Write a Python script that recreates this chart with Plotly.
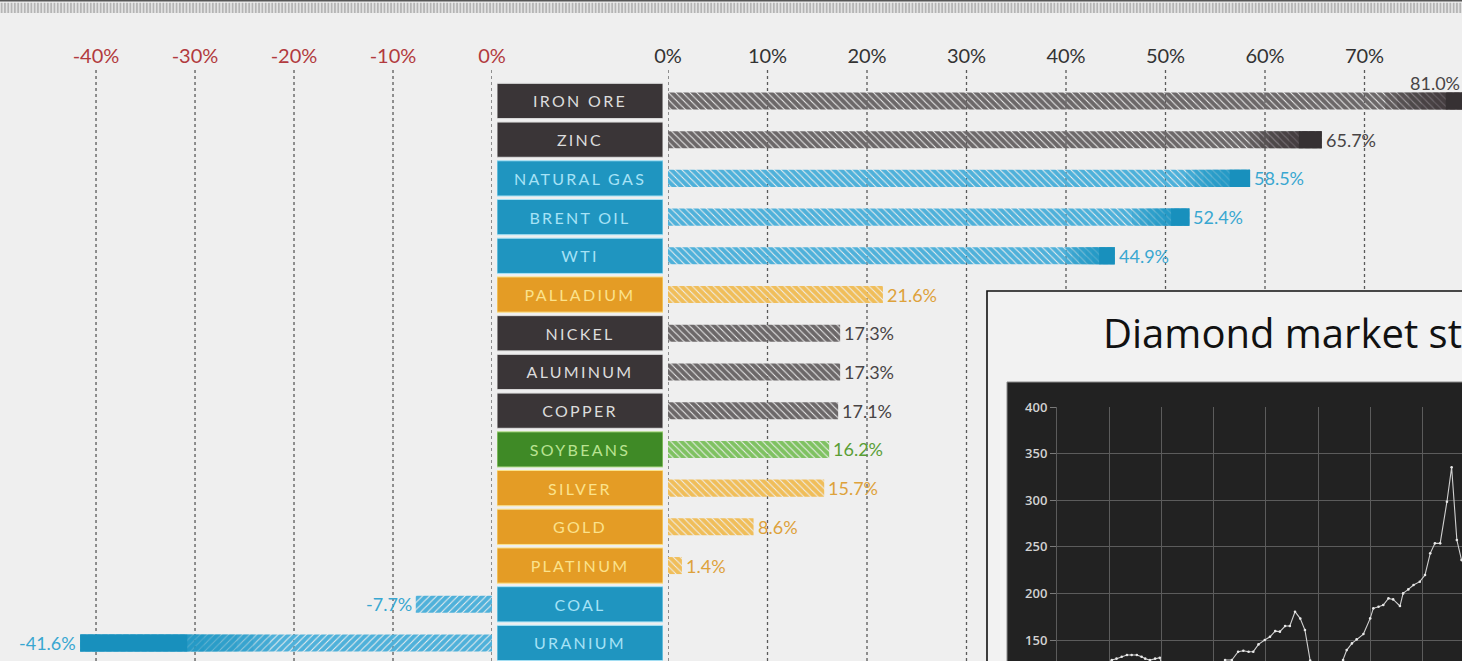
import plotly.graph_objects as go

W, H = 1462, 661

# ---------------- data ----------------
categories = ["IRON ORE", "ZINC", "NATURAL GAS", "BRENT OIL", "WTI", "PALLADIUM",
              "NICKEL", "ALUMINUM", "COPPER", "SOYBEANS", "SILVER", "GOLD",
              "PLATINUM", "COAL", "URANIUM"]
changes = [81.0, 65.7, 58.5, 52.4, 44.9, 21.6, 17.3, 17.3, 17.1, 16.2, 15.7, 8.6,
           1.4, -7.7, -41.6]
sectors = ["metal", "metal", "energy", "energy", "energy", "precious", "metal",
           "metal", "metal", "agri", "precious", "precious", "precious", "energy",
           "energy"]

neg_ticks = [-40, -30, -20, -10, 0]
neg_tick_labels = ["-40%", "-30%", "-20%", "-10%", "0%"]
pos_ticks = [0, 10, 20, 30, 40, 50, 60, 70]
pos_tick_labels = ["0%", "10%", "20%", "30%", "40%", "50%", "60%", "70%"]

inset_title = "Diamond market statistics"
inset_x = [0.1, 0.4, 0.7, 0.95, 1.05, 1.14, 1.24, 1.34, 1.43, 1.53, 1.62, 1.69, 1.78,
           1.88, 1.97, 2.05, 2.3, 2.6, 2.9, 3.12, 3.22, 3.35, 3.47, 3.57, 3.67, 3.76,
           3.86, 3.98, 4.08, 4.18, 4.27, 4.37, 4.46, 4.56, 4.66, 4.75, 4.85, 5.0, 5.2,
           5.35, 5.48, 5.55, 5.65, 5.74, 5.87, 6.0, 6.06, 6.16, 6.25, 6.35, 6.44, 6.57,
           6.63, 6.73, 6.83, 6.95, 7.05, 7.15, 7.24, 7.34, 7.47, 7.56, 7.66, 7.75, 7.85]
inset_y = [105, 112, 118, 124, 128.5, 130, 132, 134, 134, 134, 132, 130, 128.5, 130,
           131, 115, 100, 95, 100, 118, 128.5, 128.5, 137.5, 138.5, 137.5, 137.5, 145.3,
           150, 153.5, 159.6, 159, 165, 165, 180.4, 173, 160.7, 128, 108, 98, 110, 128.5,
           139.2, 146.4, 150.7, 156.4, 173.2, 184, 185.7, 187.5, 194.7, 193.6, 186.5,
           200, 204.3, 209, 212.6, 219.8, 243, 253.7, 253.7, 298.4, 335.3, 257.3, 235.8,
           225]
inset_yticks = [150, 200, 250, 300, 350, 400]

# ---------------- styles ----------------
palette = {
    "metal":    dict(box="#3a3537", text="#dcdcdc", fg="#363133", bg="#6c6869", label="#484445"),
    "energy":   dict(box="#1f95c0", text="#a6e2f6", fg="#1890bd", bg="#4fb1da", label="#39a7d1"),
    "precious": dict(box="#e49c25", text="#fbe28c", fg="#e19a1e", bg="#f0be5a", label="#dea23b"),
    "agri":     dict(box="#3f8a26", text="#b9e391", fg="#43932a", bg="#7fc262", label="#5a9e36"),
}
FONT = "Lato"


def px(x):
    return x / W


def py(y):
    return 1 - y / H


x_left_range = [-49.7, 0]
x_right_range = [0, (W - 668) / 9.95]

fig = go.Figure()

pos_idx = [i for i, v in enumerate(changes) if v > 0]
neg_idx = [i for i, v in enumerate(changes) if v < 0]


def hatched(idx, axis, shape):
    return go.Bar(
        x=[changes[i] for i in idx], y=[categories[i] for i in idx], orientation="h",
        xaxis=axis, yaxis="y", width=0.44,
        marker=dict(color=[palette[sectors[i]]["bg"] for i in idx], line=dict(width=0),
                    pattern=dict(shape=shape,
                                 fgcolor=[palette[sectors[i]]["fg"] for i in idx],
                                 bgcolor=[palette[sectors[i]]["bg"] for i in idx],
                                 size=5, solidity=0.8, fillmode="replace")),
        hoverinfo="skip")


fig.add_trace(hatched(neg_idx, "x", "/"))
fig.add_trace(hatched(pos_idx, "x2", "\\"))

# graded solid end caps on the long bars (fade from hatch to solid)
big = [i for i, v in enumerate(changes) if abs(v) >= 40]
steps_pos = [0.11, 0.095, 0.08, 0.065, 0.05, 0.035]
steps_neg = [0.46, 0.42, 0.38, 0.34, 0.30, 0.26]
for k in range(len(steps_pos)):
    op = 1.0 if k == len(steps_pos) - 1 else 0.22
    for axis, sel, frac in [("x2", [i for i in big if changes[i] > 0], steps_pos[k]),
                            ("x", [i for i in big if changes[i] < 0], steps_neg[k])]:
        if not sel:
            continue
        caps = [abs(changes[i]) * frac for i in sel]
        bases = [changes[i] - c if changes[i] > 0 else changes[i] for i, c in zip(sel, caps)]
        fig.add_trace(go.Bar(
            x=caps, base=bases, y=[categories[i] for i in sel], orientation="h",
            xaxis=axis, yaxis="y", width=0.44, opacity=op,
            marker=dict(color=[palette[sectors[i]]["fg"] for i in sel], line=dict(width=0)),
            hoverinfo="skip"))

# category label boxes
fig.add_trace(go.Bar(
    x=[1] * len(categories), y=categories, orientation="h", xaxis="x3", yaxis="y",
    width=0.91,
    marker=dict(color=[palette[s]["box"] for s in sectors],
                line=dict(color=[palette[s]["text"] for s in sectors], width=1)),
    text=['<span style="letter-spacing:2.3px">%s</span>' % c for c in categories],
    textposition="inside", insidetextanchor="middle", constraintext="none",
    textangle=0,
    textfont=dict(family=FONT, size=16, color=[palette[s]["text"] for s in sectors]),
    hoverinfo="skip"))

# value labels as annotations
annotations = []
for i, v in enumerate(changes):
    col = palette[sectors[i]]["label"]
    txt = "%.1f%%" % v
    if v > x_right_range[1]:
        annotations.append(dict(x=x_right_range[1], y=categories[i], xref="x2", yref="y",
                                text=txt, xanchor="right", yanchor="middle", yshift=18,
                                showarrow=False, font=dict(family=FONT, size=18, color=col)))
    elif v > 0:
        annotations.append(dict(x=v, y=categories[i], xref="x2", yref="y", text=txt,
                                xanchor="left", yanchor="middle", xshift=2,
                                showarrow=False, font=dict(family=FONT, size=18, color=col)))
    else:
        annotations.append(dict(x=v, y=categories[i], xref="x", yref="y", text=txt,
                                xanchor="right", yanchor="middle", xshift=-2,
                                showarrow=False, font=dict(family=FONT, size=18, color=col)))

annotations.append(dict(text=inset_title, xref="paper", yref="paper", x=px(1101), y=py(332),
                        xanchor="left", yanchor="middle", showarrow=False,
                        font=dict(family="Open Sans", size=40, color="#111111")))

# decorative striped strip at the top
fig.add_trace(go.Bar(
    x=[1], y=[0], orientation="h", xaxis="x5", yaxis="y5", width=1,
    marker=dict(color="#e2e2e2", line=dict(width=0),
                pattern=dict(shape="|", fgcolor="#b0b0b0", bgcolor="#e2e2e2", size=3.3,
                             solidity=0.45, fillmode="replace")),
    hoverinfo="skip"))

# inset line chart
fig.add_trace(go.Scatter(
    x=inset_x, y=inset_y, xaxis="x4", yaxis="y4", mode="lines+markers",
    line=dict(color="#d0d0d0", width=1.1), marker=dict(color="#e8e8e8", size=2.6),
    hoverinfo="skip"))

# ---------------- shapes ----------------
shapes = []
for t in neg_ticks:
    shapes.append(dict(type="line", xref="x", yref="paper", x0=t, x1=t, y0=0, y1=py(70),
                       line=dict(color="#5a5a5a", width=1.3, dash="dot"), layer="below"))
for t in pos_ticks:
    shapes.append(dict(type="line", xref="x2", yref="paper", x0=t, x1=t, y0=0, y1=py(70),
                       line=dict(color="#5a5a5a", width=1.3, dash="dot"), layer="below"))
shapes.append(dict(type="rect", xref="paper", yref="paper", x0=px(987), x1=1.02,
                   y0=-0.02, y1=py(291), fillcolor="#f2f2f2",
                   line=dict(color="#111111", width=1.6), layer="below"))
shapes.append(dict(type="rect", xref="paper", yref="paper", x0=px(1007), x1=1.02,
                   y0=-0.02, y1=py(382), fillcolor="#222222",
                   line=dict(color="#8a8a8a", width=1), layer="below"))
shapes.append(dict(type="line", xref="paper", yref="paper", x0=0, x1=1, y0=py(0.8), y1=py(0.8),
                   line=dict(color="#555555", width=1.6), layer="above"))

common_axis = dict(showgrid=False, zeroline=False, showline=False, automargin=False)

fig.update_layout(
    width=W, height=H, margin=dict(l=0, r=0, t=0, b=0, pad=0, autoexpand=False),
    paper_bgcolor="#efefef", plot_bgcolor="rgba(0,0,0,0)",
    showlegend=False, barmode="overlay", shapes=shapes, annotations=annotations,
    xaxis=dict(domain=[0, px(492)], range=x_left_range, anchor="y", side="top",
               tickmode="array", tickvals=neg_ticks, ticktext=neg_tick_labels,
               tickfont=dict(family=FONT, size=20, color="#b23a3e"),
               ticks="outside", ticklen=10, tickcolor="rgba(0,0,0,0)", **common_axis),
    xaxis2=dict(domain=[px(668), 1], range=x_right_range, anchor="y", side="top",
                tickmode="array", tickvals=pos_ticks, ticktext=pos_tick_labels,
                tickfont=dict(family=FONT, size=20, color="#333333"),
                ticks="outside", ticklen=10, tickcolor="rgba(0,0,0,0)", **common_axis),
    xaxis3=dict(domain=[px(497), px(663)], range=[0, 1], anchor="y", visible=False),
    yaxis=dict(domain=[0, py(81.6)], type="category", categoryorder="array",
               categoryarray=categories, range=[14.465, -0.5], visible=False),
    xaxis4=dict(domain=[px(1057), 1], range=[0, (W - 1057) / 52.2], anchor="y4",
                tick0=0, dtick=1, showgrid=True, gridcolor="#5c5c5c", gridwidth=1,
                showticklabels=False, zeroline=False, showline=False, automargin=False),
    yaxis4=dict(domain=[0, py(407)], range=[127.5, 400], anchor="x4",
                tickmode="array", tickvals=inset_yticks, showgrid=True,
                gridcolor="#5c5c5c", gridwidth=1, zeroline=False, automargin=False,
                showline=True, linecolor="#5c5c5c", ticks="outside", ticklen=6,
                tickcolor="#7a7a7a",
                tickfont=dict(family="Open Sans", size=13, color="#d2d2d2", weight=600)),
    xaxis5=dict(domain=[0, 1], range=[0, 1], anchor="y5", visible=False),
    yaxis5=dict(domain=[py(13), py(2.5)], range=[-0.5, 0.5], anchor="x5", visible=False),
)

fig.write_html("out.html", config={"displayModeBar": False},
               post_script="document.body.style.margin='0';document.body.style.overflow='hidden';")
